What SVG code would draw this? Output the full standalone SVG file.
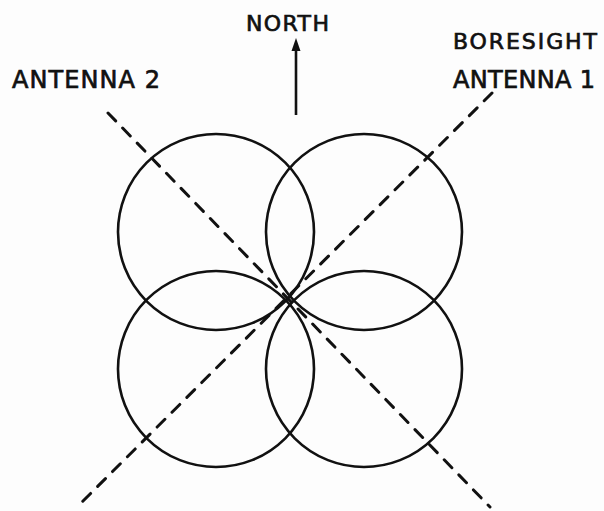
<svg xmlns="http://www.w3.org/2000/svg" width="604" height="511" viewBox="0 0 604 511">
<style>
.lbl{font-family:"DejaVu Sans","Liberation Sans",sans-serif;fill:#111;stroke:#111;stroke-width:0.7}
.c{fill:none;stroke:#111;stroke-width:2.6}
.d{fill:none;stroke:#111;stroke-width:3;stroke-dasharray:11 10;stroke-linecap:round}
</style>
<rect width="604" height="511" fill="#fdfdfd"/>
<g id="connectors">
<line class="d" x1="492" y1="93" x2="81" y2="503"/>
<line class="d" x1="108" y1="113" x2="490" y2="507"/>
<line x1="296" y1="115" x2="296" y2="48" stroke="#111" stroke-width="2.6"/>
<polygon points="296,38 300.5,51 291.5,51" fill="#111"/>
</g>
<g id="lobe-nw"><circle class="c" cx="216" cy="232" r="98"/></g>
<g id="lobe-ne"><circle class="c" cx="364" cy="232" r="98"/></g>
<g id="lobe-sw"><circle class="c" cx="216" cy="369" r="98"/></g>
<g id="lobe-se"><circle class="c" cx="364" cy="369" r="98"/></g>
<g id="label-north"><text class="lbl" x="246" y="31" font-size="22" textLength="83" lengthAdjust="spacing">NORTH</text></g>
<g id="label-antenna2"><text class="lbl" x="12" y="88" font-size="24" textLength="148" lengthAdjust="spacing">ANTENNA 2</text></g>
<g id="label-antenna1">
<text class="lbl" x="453" y="49" font-size="22" textLength="144" lengthAdjust="spacing">BORESIGHT</text>
<text class="lbl" x="453" y="88" font-size="24" textLength="142" lengthAdjust="spacing">ANTENNA 1</text>
</g>
</svg>
